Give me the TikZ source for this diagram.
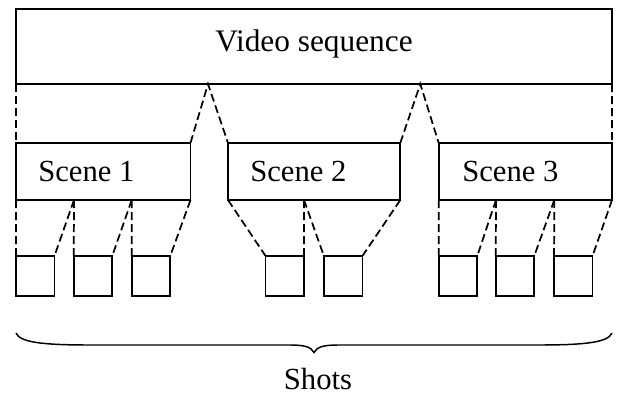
\documentclass[tikz,border=0pt]{standalone}
\usepackage{fontspec}
\setmainfont{Liberation Serif}
\begin{document}
\begin{tikzpicture}[x=0.75pt,y=-0.75pt,
  box/.style={draw, line width=1.3pt, rectangle, inner sep=0pt, outer sep=0pt},
  shotbox/.style={box, minimum width=38.5*0.75pt, minimum height=40*0.75pt},
  scenebox/.style={box, minimum height=57*0.75pt},
  link/.style={line width=1.3pt, dash pattern=on 6pt off 3pt},
  lbl/.style={font=\fontsize{23}{27}\selectfont, inner sep=0pt, anchor=base},
  lblw/.style={lbl, anchor=base west}]
\useasboundingbox (0,0) rectangle (617,393);
% video
\node[box, minimum width=596*0.75pt, minimum height=75.3*0.75pt] (v) at (314,46.35) {};
\node[lbl, font=\fontsize{23.5}{27}\selectfont] (vt) at (314,51) {Video sequence};
% scenes
\node[scenebox, minimum width=174.5*0.75pt] (s1) at (103.25,171.5) {};
\node[scenebox, minimum width=172.3*0.75pt] (s2) at (314.15,171.5) {};
\node[scenebox, minimum width=173.3*0.75pt] (s3) at (525.35,171.5) {};
\node[lblw] (s1t) at (38,181) {Scene 1};
\node[lblw] (s2t) at (250,181) {Scene 2};
\node[lblw] (s3t) at (462,181) {Scene 3};
% shots
\node[shotbox] (a1) at (35.2,276) {};
\node[shotbox] (a2) at (93,276) {};
\node[shotbox] (a3) at (151,276) {};
\node[shotbox] (b1) at (284.85,276) {};
\node[shotbox] (b2) at (343.15,276) {};
\node[shotbox] (c1) at (458,276) {};
\node[shotbox] (c2) at (515,276) {};
\node[shotbox] (c3) at (573.3,276) {};
% coordinates
\coordinate (q1) at (208,84);
\coordinate (q2) at (420.3,84);
\coordinate (p11) at (74,200);
\coordinate (p12) at (131.7,200);
\coordinate (p21) at (304,200);
\coordinate (p31) at (496,200);
\coordinate (p32) at (554.3,200);
% video to scenes
\draw[link] (v.south west) -- (s1.north west);
\draw[link] (s1.north east) -- (q1) -- (s2.north west);
\draw[link] (s2.north east) -- (q2) -- (s3.north west);
\draw[link] (v.south east) -- (s3.north east);
% scene 1 to shots
\draw[link] (s1.south west) -- (a1.north west);
\draw[link] (p11) -- (a1.north east);
\draw[link] (p11) -- (a2.north west);
\draw[link] (p12) -- (a2.north east);
\draw[link] (p12) -- (a3.north west);
\draw[link] (s1.south east) -- (a3.north east);
% scene 2 to shots
\draw[link] (s2.south west) -- (b1.north west);
\draw[link] (p21) -- (b1.north east);
\draw[link] (p21) -- (b2.north west);
\draw[link] (s2.south east) -- (b2.north east);
% scene 3 to shots
\draw[link] (s3.south west) -- (c1.north west);
\draw[link] (p31) -- (c1.north east);
\draw[link] (p31) -- (c2.north west);
\draw[link] (p32) -- (c2.north east);
\draw[link] (p32) -- (c3.north west);
\draw[link] (s3.south east) -- (c3.north east);
% brace
\coordinate (bl) at (16,333);
\coordinate (br) at (612,333);
\coordinate (bt) at (314,352.5);
\draw[line width=1.1pt] (bl) .. controls (20,342) and (40,345) .. (90,345)
  -- (290,345) .. controls (305,345) and (311,347) .. (bt)
  .. controls (317,347) and (323,345) .. (338,345)
  -- (538,345) .. controls (588,345) and (608,342) .. (br);
\node[lbl] (shots) at (318,389.5) {Shots};
\end{tikzpicture}
\end{document}
